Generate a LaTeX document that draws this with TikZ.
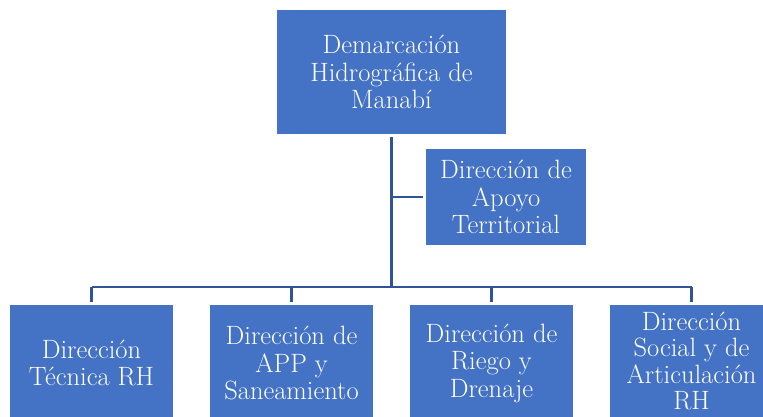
\documentclass[tikz,border=0pt]{standalone}
\usepackage{xcolor}
\definecolor{boxblue}{HTML}{4472C4}
\definecolor{lineblue}{HTML}{2F5597}
\usetikzlibrary{calc}

\begin{document}
\begin{tikzpicture}[x=1pt,y=-1pt,
    unit/.style={fill=boxblue, text=white, align=center, inner sep=0pt,
        font=\rmfamily\fontsize{26.5}{27.5}\selectfont},
    link/.style={lineblue, line width=2.4pt}]
    % Frame
    \useasboundingbox (0,0) rectangle (763,416);
    \clip (0,0) rectangle (763,416);

    % Head
    \node[unit, minimum width=229pt, minimum height=124pt] (dhm) at (391.5,72)
        {Demarcación\\Hidrográfica de\\Manabí};

    % Staff unit
    \node[unit, minimum width=160pt, minimum height=96pt] (dat) at (506,197)
        {Dirección de\\Apoyo\\Territorial};

    % Directions
    \node[unit, minimum width=163pt, minimum height=116pt] (dtr) at (91.5,363)
        {Dirección\\Técnica RH};
    \node[unit, minimum width=163pt, minimum height=116pt] (dapp) at (291.5,363)
        {Dirección de\\APP y\\Saneamiento};
    \node[unit, minimum width=163pt, minimum height=116pt] (drd) at (491.5,363)
        {Dirección de\\Riego y\\Drenaje};
    \node[unit, minimum width=163pt, minimum height=112pt,
        font=\rmfamily\fontsize{26.5}{26.5}\selectfont] (dsa) at (691.5,361)
        {Dirección\\Social y de\\Articulación\\RH};

    % Connectors
    \coordinate (bar) at (392,287);
    \draw[link, shorten <=3pt] (dhm.south) -- (dhm.south |- bar);
    \draw[link, shorten >=3pt] (dhm.south |- dat.west) -- (dat.west);
    \draw[link] (dtr.north |- bar) -- (dsa.north |- bar);
    \foreach \d in {dtr,dapp,drd,dsa}
        \draw[link, shorten >=3pt] (\d.north |- bar) -- (\d.north);
\end{tikzpicture}
\end{document}
